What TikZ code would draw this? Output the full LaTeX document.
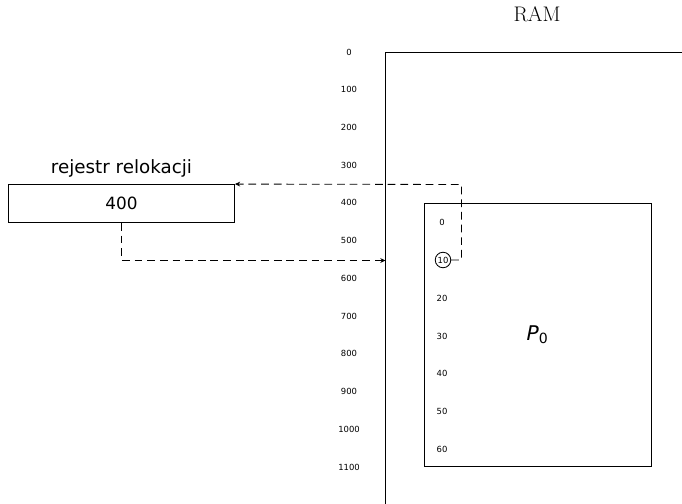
\documentclass[tikz,border=0pt]{standalone}
\usepackage{fontspec}
\setsansfont{DejaVu Sans}
\usetikzlibrary{arrows.meta,positioning}

\begin{document}
\begin{tikzpicture}[
  x=0.025cm, y=-0.025cm, semithick,
  addr/.style={font=\sffamily\fontsize{6}{7}\selectfont},
  regbox/.style={rectangle, draw, minimum width=5.65cm, minimum height=0.95cm, font=\sffamily\large},
  procbox/.style={rectangle, draw, minimum width=5.675cm, minimum height=6.575cm},
  mark10/.style={circle, draw, inner sep=0.8pt, font=\sffamily\fontsize{6}{7}\selectfont},
  link/.style={-{Stealth[length=1.3mm, width=1.2mm]}, dash pattern=on 5.5pt off 3.5pt},
]
  \useasboundingbox (0,0) rectangle (682,504);

  % RAM
  \node (ram) [font=\fontsize{15}{18}\selectfont] at (537,14) {RAM};
  \draw (385.5,504) -- (385.5,52.5) -- (682,52.5);
  \foreach \a [count=\i from 0] in {0,100,200,300,400,500,600,700,800,900,1000,1100}
    \node[addr] (a\i) at (349,52+37.73*\i) {\a};

  % process P0
  \node (proc) [procbox] at (537.5,334.5) {};
  \node (pname) at (proc.center) {\Large\sffamily\textit{P}\textsubscript{0}};
  \foreach \o/\y in {0/222,20/298,30/336,40/373,50/411,60/449}
    \node[addr] (o\o) at (442,\y) {\o};
  \node (c10) [mark10] at (443,260) {10};

  % rejestr
  \node (reg) [regbox] at (121.5,203.5) {400};
  \node (reglabel) [above=0.3mm of reg, font=\sffamily\fontsize{13}{15}\selectfont] {rejestr relokacji};

  \coordinate (bend) at (461.5,184.5);
  \coordinate (ramin) at (385.5,260.5);
  \draw [link] (c10.east) -| (bend) -- (reg.north east);
  \draw [link] (reg.south) |- (ramin);
\end{tikzpicture}
\end{document}
